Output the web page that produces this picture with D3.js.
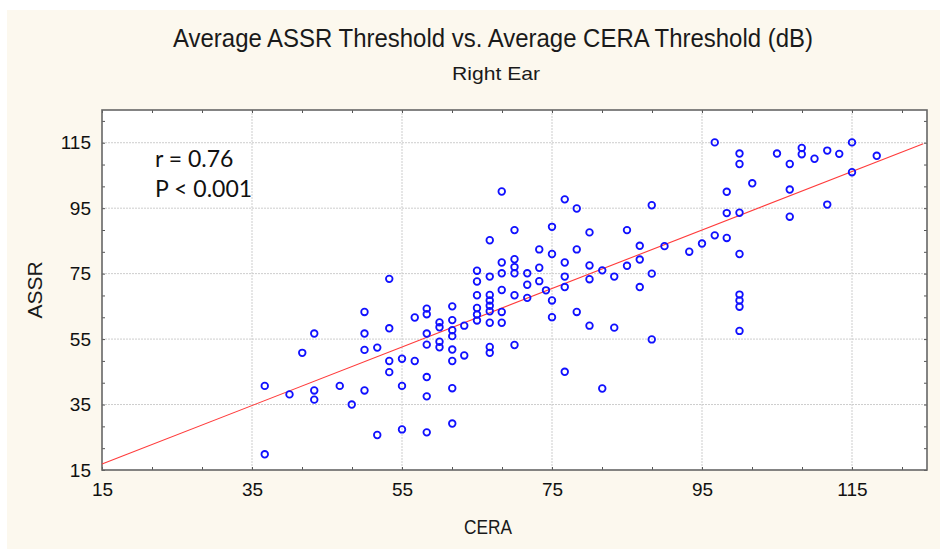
<!DOCTYPE html>
<html>
<head>
<meta charset="utf-8">
<script src="https://cdn.jsdelivr.net/npm/d3@7"></script>
<style>
  html, body { margin: 0; padding: 0; background: #ffffff; }
  svg { display: block; }
</style>
</head>
<body>
<svg id="chart" width="940" height="549"></svg>
<script>
// ---- data ----
const titleText = "Average ASSR Threshold vs. Average CERA Threshold (dB)";
const subtitleText = "Right Ear";
const xLabel = "CERA";
const yLabel = "ASSR";
const annotations = ["r = 0.76", "P < 0.001"];
const xTicks = [15, 35, 55, 75, 95, 115];
const yTicks = [15, 35, 55, 75, 95, 115];
const xDomain = [15, 125];
const yDomain = [15, 125];
const regIntercept = 3.4;
const regSlope = 0.894;

const cera = [
  53.3, 50, 58.3, 58.3, 56.7, 43.3, 50, 53.3, 58.3, 60, 60, 41.7, 50, 51.7, 53.3, 55, 56.7, 58.3, 60, 60,
  53.3, 36.7, 40, 43.3, 43.3, 46.7, 48.3, 50, 55, 58.3, 58.3, 51.7, 55, 58.3, 36.7,
  68.3, 76.7, 78.3, 70, 75, 80, 66.7, 73.3, 78.3, 75, 68.3, 70, 70, 76.7, 80, 81.7, 65, 65, 66.7, 68.3,
  70, 71.7, 71.7, 73.3, 73.3, 76.7, 76.7, 80, 74.2, 68.3, 65, 66.7, 70, 71.7, 75, 66.7, 66.7, 65, 66.7, 65,
  68.3, 65, 66.7, 68.3, 75, 78.3, 80, 63.3, 61.7, 61.7, 61.7, 61.7, 61.7, 61.7, 61.7, 63.3, 66.7, 66.7, 70, 76.7,
  88.3, 98.3, 101.7, 98.3, 100, 85, 86.7, 90, 93.3, 95, 96.7, 98.3, 100, 85, 86.7, 83.3, 88.3, 86.7, 83.3, 88.3,
  100, 100, 100, 100, 81.7,
  96.7, 100, 100, 105, 106.7, 106.7, 106.7, 108.3, 108.3, 110, 111.7, 113.3, 115, 115, 118.3, 111.7,
  61.7
];
const assr = [
  73.4, 63.3, 64.3, 62.6, 61.6, 56.7, 56.7, 58.3, 56.7, 60.1, 58.6, 50.8, 51.7, 52.4, 48.3, 49.0, 48.3, 53.3, 54.2, 52.5,
  44.9, 40.7, 38.1, 39.3, 36.5, 40.7, 35.0, 39.3, 40.7, 43.4, 37.5, 25.7, 27.4, 26.5, 19.8,
  100.1, 97.7, 94.9, 88.3, 89.3, 87.6, 85.2, 82.4, 82.4, 81.0, 78.4, 79.4, 77.0, 78.4, 77.5, 76.0, 75.9, 72.6, 74.1, 75.1,
  75.1, 75.1, 71.6, 76.8, 72.7, 74.1, 70.9, 73.3, 69.9, 70.0, 68.4, 68.5, 68.4, 67.6, 66.8, 66.8, 65.2, 64.5, 63.5, 62.5,
  63.3, 60.7, 60.0, 60.0, 61.7, 63.3, 59.1, 59.1, 65.0, 60.8, 57.7, 55.9, 51.8, 48.3, 40.0, 50.0, 52.6, 50.8, 53.2, 45.0,
  95.9, 100.0, 102.6, 93.5, 93.6, 88.3, 83.5, 83.4, 81.7, 84.2, 86.7, 85.9, 81.0, 77.4, 79.3, 74.1, 75.0, 70.9, 58.5, 54.9,
  68.6, 66.8, 64.9, 57.5, 39.9,
  115.1, 111.7, 108.5, 111.7, 108.5, 100.7, 92.4, 113.4, 111.5, 110.1, 112.6, 111.6, 115.1, 106.0, 111.0, 96.1,
  29.2
];
const points = cera.map((c, i) => ({ x: c, y: assr[i] }));

// ---- layout ----
const svg = d3.select("#chart");
const W = 940, H = 549;
const plot = { left: 102, right: 927, top: 110, bottom: 470 };

svg.append("rect").attr("x", 7).attr("y", 10).attr("width", W - 7).attr("height", H - 10)
  .attr("fill", "#fcf8ee");

const x = d3.scaleLinear().domain(xDomain).range([plot.left, plot.right]);
const y = d3.scaleLinear().domain(yDomain).range([plot.bottom, plot.top]);

svg.append("rect").attr("x", plot.left).attr("y", plot.top)
  .attr("width", plot.right - plot.left).attr("height", plot.bottom - plot.top)
  .attr("fill", "#ffffff");

// gridlines
const grid = svg.append("g");
grid.selectAll("line.gx").data(xTicks.slice(1)).join("line")
  .attr("x1", d => x(d)).attr("x2", d => x(d)).attr("y1", plot.top).attr("y2", plot.bottom)
  .attr("stroke", "#cdcdcd").attr("stroke-width", 1).attr("stroke-dasharray", "2,1");
grid.selectAll("line.gy").data(yTicks.slice(1)).join("line")
  .attr("y1", d => y(d)).attr("y2", d => y(d)).attr("x1", plot.left).attr("x2", plot.right)
  .attr("stroke", "#cdcdcd").attr("stroke-width", 1).attr("stroke-dasharray", "2,1");

// minor + major tick values (every 20/3)
const allTicks = d3.range(0, 17).map(i => 15 + i * 20 / 3).filter(v => v <= 125.01);
const isMajor = (d, list) => list.includes(Math.round(d)) && Math.abs(d - Math.round(d)) < 0.01;

function styleAxis(g) {
  g.select(".domain").remove();
  g.selectAll(".tick line").attr("stroke", "#555").attr("stroke-width", 1);
  g.selectAll(".tick text").attr("fill", "#111")
    .style("font-family", "'Liberation Sans', Arial, sans-serif").style("font-size", "19px");
}

svg.append("g").attr("transform", `translate(0,${plot.bottom})`)
  .call(d3.axisBottom(x).tickValues(allTicks).tickSize(-3)
    .tickFormat(d => isMajor(d, xTicks) ? d3.format("d")(d) : "").tickPadding(13))
  .call(styleAxis);
svg.append("g").attr("transform", `translate(0,${plot.top})`)
  .call(d3.axisTop(x).tickValues(allTicks).tickSize(-3).tickFormat(""))
  .call(styleAxis);
svg.append("g").attr("transform", `translate(${plot.left},0)`)
  .call(d3.axisLeft(y).tickValues(allTicks).tickSize(-3)
    .tickFormat(d => isMajor(d, yTicks) ? d3.format("d")(d) : "").tickPadding(11))
  .call(styleAxis);
svg.append("g").attr("transform", `translate(${plot.right},0)`)
  .call(d3.axisRight(y).tickValues(allTicks).tickSize(-3).tickFormat(""))
  .call(styleAxis);

// border
svg.append("rect").attr("x", plot.left).attr("y", plot.top)
  .attr("width", plot.right - plot.left).attr("height", plot.bottom - plot.top)
  .attr("fill", "none").attr("stroke", "#666").attr("stroke-width", 1.6);

// regression line
svg.append("line")
  .attr("x1", x(xDomain[0])).attr("y1", y(regIntercept + regSlope * xDomain[0]))
  .attr("x2", x(124.5)).attr("y2", y(regIntercept + regSlope * 124.5))
  .attr("stroke", "#ff3b3b").attr("stroke-width", 1.1);

// points
svg.append("g").selectAll("circle").data(points).join("circle")
  .attr("cx", d => x(d.x)).attr("cy", d => y(d.y)).attr("r", 3.3)
  .attr("fill", "none").attr("stroke", "#1010ff").attr("stroke-width", 1.8);

// annotations
svg.append("g").selectAll("text").data(annotations).join("text")
  .attr("x", 155).attr("y", (d, i) => 167 + i * 30)
  .style("font-family", "Lato, 'Open Sans', sans-serif").style("font-size", "23px").attr("fill", "#111")
  .text(d => d);

// titles
svg.append("text").attr("x", 493).attr("y", 47).attr("text-anchor", "middle")
  .style("font-family", "'Liberation Sans', Arial, sans-serif").style("font-size", "25px").attr("fill", "#1a1a1a")
  .attr("textLength", 640).attr("lengthAdjust", "spacingAndGlyphs")
  .text(titleText);
svg.append("text").attr("x", 496).attr("y", 80).attr("text-anchor", "middle")
  .style("font-family", "'Liberation Sans', Arial, sans-serif").style("font-size", "19px").attr("fill", "#1a1a1a")
  .attr("textLength", 88).attr("lengthAdjust", "spacingAndGlyphs")
  .text(subtitleText);
svg.append("text").attr("x", 488).attr("y", 534).attr("text-anchor", "middle")
  .style("font-family", "'Liberation Sans', Arial, sans-serif").style("font-size", "21px").attr("fill", "#1a1a1a")
  .attr("textLength", 48).attr("lengthAdjust", "spacingAndGlyphs")
  .text(xLabel);
svg.append("text").attr("transform", `translate(42,${y(70)}) rotate(-90)`).attr("text-anchor", "middle")
  .style("font-family", "'Liberation Sans', Arial, sans-serif").style("font-size", "21px").attr("fill", "#1a1a1a")
  .text(yLabel);
</script>
</body>
</html>
